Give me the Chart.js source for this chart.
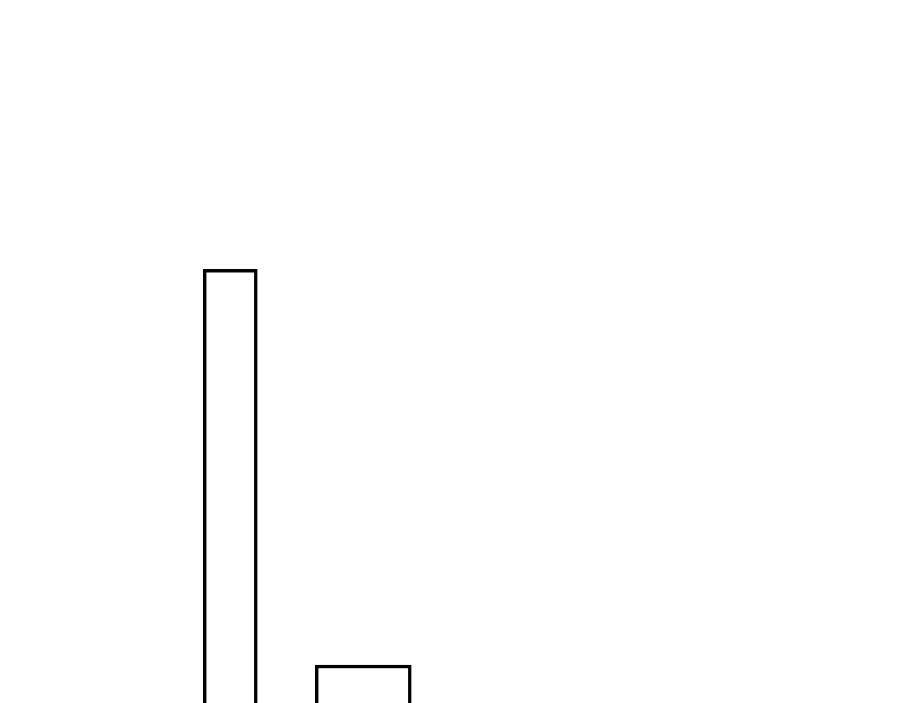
<!DOCTYPE html>
<html>
<head>
<meta charset="utf-8">
<script src="https://cdn.jsdelivr.net/npm/chart.js@4/dist/chart.umd.min.js"></script>
<style>
  html, body { margin: 0; padding: 0; background: #ffffff; overflow: hidden; }
  #wrap { width: 900px; height: 703px; position: relative; }
</style>
</head>
<body>
<div id="wrap"><canvas id="c"></canvas></div>
<script>
// Data (y axis 0..100, bottom cropped)
const categories = ['A', 'B'];
const seriesA = [61.7, null];
const seriesB = [null, 5.4];
const yMin = 0;
const yMax = 100;

new Chart(document.getElementById('c'), {
  type: 'bar',
  data: {
    labels: categories,
    datasets: [
      {
        label: 'A',
        data: seriesA,
        backgroundColor: '#ffffff',
        borderColor: '#000000',
        borderWidth: 3.5,
        barThickness: 54,
        skipNull: true
      },
      {
        label: 'B',
        data: seriesB,
        backgroundColor: '#ffffff',
        borderColor: '#000000',
        borderWidth: 3.5,
        barThickness: 96,
        skipNull: true
      }
    ]
  },
  options: {
    responsive: true,
    maintainAspectRatio: false,
    animation: false,
    devicePixelRatio: 1,
    layout: { padding: { left: 163.75, right: 470.25, top: 0, bottom: 0 } },
    plugins: { legend: { display: false }, tooltip: { enabled: false }, title: { display: false } },
    scales: {
      x: { display: false },
      y: { display: false, min: yMin, max: yMax }
    }
  }
});
</script>
</body>
</html>
